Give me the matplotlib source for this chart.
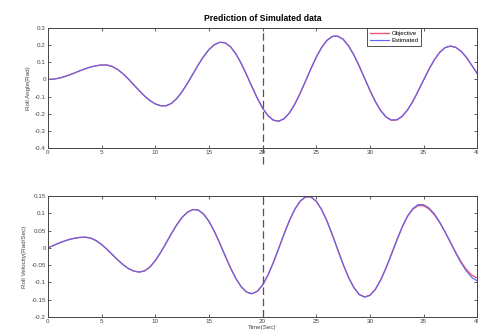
import numpy as np
import matplotlib
matplotlib.use("Agg")
import matplotlib.pyplot as plt

plt.rcParams['font.family'] = ['Liberation Sans', 'DejaVu Sans']

# time grid, 0.5 s steps
t = np.linspace(0, 40, 81)

# roll angle (rad)
angle_obj = [0.0, 0.0018, 0.0073, 0.0157, 0.0266, 0.0387, 0.0513, 0.0631, 0.0730, 0.0803,
             0.0843, 0.0842, 0.0755, 0.0579, 0.0328, 0.0021, -0.0316, -0.0655, -0.0970, -0.1234,
             -0.1427, -0.1533, -0.1537, -0.1397, -0.1114, -0.0710, -0.0220, 0.0315, 0.0850, 0.1340,
             0.1744, 0.2027, 0.2167, 0.2142, 0.1915, 0.1502, 0.0941, 0.0281, -0.0414, -0.1086,
             -0.1670, -0.2116, -0.2383, -0.2446, -0.2299, -0.1955, -0.1443, -0.0805, -0.0095, 0.0627,
             0.1300, 0.1870, 0.2284, 0.2519, 0.2533, 0.2348, 0.1971, 0.1435, 0.0785, 0.0075,
             -0.0635, -0.1285, -0.1821, -0.2198, -0.2383, -0.2366, -0.2160, -0.1786, -0.1277, -0.0673,
             -0.0032, 0.0592, 0.1145, 0.1579, 0.1856, 0.1950, 0.1871, 0.1642, 0.1280, 0.0818,
             0.0340]
angle_est = [0.0, 0.0018, 0.0073, 0.0157, 0.0266, 0.0387, 0.0513, 0.0631, 0.0730, 0.0803,
             0.0843, 0.0842, 0.0755, 0.0579, 0.0328, 0.0021, -0.0316, -0.0655, -0.0970, -0.1234,
             -0.1427, -0.1533, -0.1537, -0.1397, -0.1114, -0.0710, -0.0220, 0.0315, 0.0850, 0.1340,
             0.1744, 0.2027, 0.2167, 0.2142, 0.1915, 0.1502, 0.0941, 0.0281, -0.0414, -0.1086,
             -0.1670, -0.2110, -0.2370, -0.2428, -0.2285, -0.1945, -0.1438, -0.0805, -0.0095, 0.0627,
             0.1300, 0.1870, 0.2280, 0.2510, 0.2525, 0.2342, 0.1968, 0.1435, 0.0785, 0.0075,
             -0.0630, -0.1278, -0.1810, -0.2182, -0.2365, -0.2350, -0.2150, -0.1780, -0.1277, -0.0673,
             -0.0032, 0.0592, 0.1145, 0.1579, 0.1856, 0.1950, 0.1871, 0.1642, 0.1280, 0.0818,
             0.0340]

# roll velocity (rad/s)
vel_obj = [0.0, 0.0070, 0.0136, 0.0196, 0.0245, 0.0281, 0.0304, 0.0310, 0.0281, 0.0208,
           0.0097, -0.0042, -0.0195, -0.0348, -0.0487, -0.0598, -0.0671, -0.0700, -0.0666, -0.0552,
           -0.0367, -0.0130, 0.0138, 0.0413, 0.0669, 0.0883, 0.1034, 0.1108, 0.1096, 0.0979,
           0.0768, 0.0481, 0.0140, -0.0222, -0.0573, -0.0882, -0.1124, -0.1278, -0.1326, -0.1259,
           -0.1074, -0.0786, -0.0423, -0.0015, 0.0402, 0.0791, 0.1118, 0.1351, 0.1475, 0.1474,
           0.1349, 0.1109, 0.0775, 0.0377, -0.0051, -0.0472, -0.0848, -0.1148, -0.1344, -0.1419,
           -0.1370, -0.1202, -0.0931, -0.0582, -0.0187, 0.0218, 0.0594, 0.0909, 0.1120, 0.1225,
           0.1220, 0.1128, 0.0960, 0.0730, 0.0458, 0.0162, -0.0135, -0.0405, -0.0630, -0.0788,
           -0.0875]
vel_est = [0.0, 0.0070, 0.0136, 0.0196, 0.0245, 0.0281, 0.0304, 0.0310, 0.0281, 0.0208,
           0.0097, -0.0042, -0.0195, -0.0348, -0.0487, -0.0598, -0.0671, -0.0700, -0.0666, -0.0552,
           -0.0367, -0.0130, 0.0138, 0.0413, 0.0669, 0.0883, 0.1034, 0.1108, 0.1096, 0.0979,
           0.0768, 0.0481, 0.0140, -0.0222, -0.0573, -0.0882, -0.1124, -0.1278, -0.1326, -0.1259,
           -0.1074, -0.0786, -0.0423, -0.0015, 0.0402, 0.0791, 0.1118, 0.1351, 0.1480, 0.1478,
           0.1349, 0.1109, 0.0775, 0.0377, -0.0051, -0.0472, -0.0848, -0.1148, -0.1350, -0.1425,
           -0.1375, -0.1205, -0.0931, -0.0582, -0.0187, 0.0218, 0.0600, 0.0920, 0.1140, 0.1255,
           0.1250, 0.1156, 0.0985, 0.0750, 0.0466, 0.0158, -0.0150, -0.0435, -0.0676, -0.0856,
           -0.0955]

xticks = [0, 5, 10, 15, 20, 25, 30, 35, 40]
angle_ticks = [0.3, 0.2, 0.1, 0, -0.1, -0.2, -0.3, -0.4]
angle_labels = ['0.3', '0.2', '0.1', '0', '-0.1', '-0.2', '-0.3', '-0.4']
vel_ticks = [0.15, 0.1, 0.05, 0, -0.05, -0.1, -0.15, -0.2]
vel_labels = ['0.15', '0.1', '0.05', '0', '-0.05', '-0.1', '-0.15', '-0.2']
split_time = 20

red = '#ec5a78'
blue = '#6464e8'
tick_fs = 4.5

fig = plt.figure(figsize=(4.78, 3.36), dpi=100)
ax1 = fig.add_axes([0.1004, 0.5595, 0.898, 0.357])
ax2 = fig.add_axes([0.1004, 0.0565, 0.898, 0.360])

def style(ax, yt, yl, ylim):
    ax.set_xlim(0, 40)
    ax.set_ylim(*ylim)
    ax.set_xticks(xticks)
    ax.set_xticklabels([str(x) for x in xticks])
    ax.set_yticks(yt)
    ax.set_yticklabels(yl)
    ax.tick_params(direction='in', length=2.5, width=0.6, labelsize=tick_fs,
                   colors='#444444', top=True, right=True, pad=1.5)
    for s in ax.spines.values():
        s.set_linewidth(0.7)
        s.set_color('#444444')

ax1.plot(t, angle_obj, color=red, lw=1.0, label='Objective')
ax1.plot(t, angle_est, color=blue, lw=0.85, label='Estimated')
style(ax1, angle_ticks, angle_labels, (-0.4, 0.3))
ax1.set_ylabel('Roll Angle(Rad)', fontsize=tick_fs, color='#444444', labelpad=3)
ax1.set_title('Prediction of Simulated data', fontsize=6.2, fontweight='bold', pad=5)
leg = ax1.legend(loc='upper left', bbox_to_anchor=(0.744, 1.0), fontsize=4.3,
                 frameon=True, fancybox=False, edgecolor='#333333', framealpha=1,
                 handlelength=3.2, handletextpad=0.5, borderaxespad=0, borderpad=0.4,
                 labelspacing=0.4)
leg.get_frame().set_linewidth(0.6)

ax2.plot(t, vel_obj, color=red, lw=1.0)
ax2.plot(t, vel_est, color=blue, lw=0.85)
style(ax2, vel_ticks, vel_labels, (-0.2, 0.15))
ax2.set_ylabel('Roll Velocity(Rad/Sec)', fontsize=tick_fs, color='#444444', labelpad=3)
ax2.set_xlabel('Time(Sec)', fontsize=tick_fs, color='#444444', labelpad=1)

# dashed split line running through both panels and the gap
ax1.axvline(split_time, ymin=-0.135, ymax=1, color='#555555', lw=0.9,
            ls=(0, (6, 3)), clip_on=False)
ax2.axvline(split_time, ymin=0, ymax=1, color='#555555', lw=0.9, ls=(0, (6, 3)))

fig.savefig('out.png', dpi=100)
